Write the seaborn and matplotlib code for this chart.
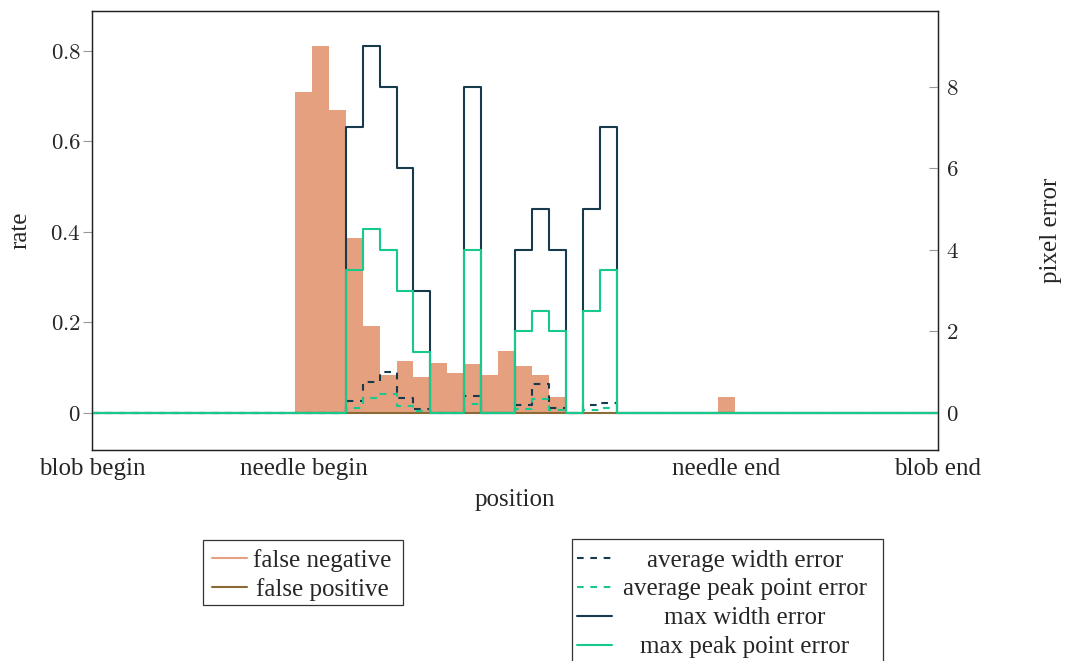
import numpy as np
import pandas as pd
import matplotlib
matplotlib.use("Agg")
import matplotlib.pyplot as plt
from matplotlib.lines import Line2D
from matplotlib.patches import Rectangle
from matplotlib.ticker import FuncFormatter
import seaborn as sns

# ---- data -------------------------------------------------------------
n_bins = 50
position_ticks = [0, 12.5, 37.5, 50]
position_labels = ["blob begin", "needle begin", "needle end", "blob end"]

# false-negative rate per bin (bins not listed are 0)
fn_bins = [12, 13, 14, 15, 16, 17, 18, 19, 20, 21, 22, 23, 24, 25, 26, 27, 37]
fn_rate = [0.71, 0.81, 0.67, 0.387, 0.193, 0.084, 0.115, 0.080, 0.111, 0.088,
           0.108, 0.083, 0.137, 0.104, 0.084, 0.036, 0.036]

# false-positive rate is zero everywhere
fp_bins = []
fp_rate = []

# pixel errors per bin (bins not listed are 0)
err_bins = [15, 16, 17, 18, 19, 22, 25, 26, 27, 29, 30]
avg_width_err = [0.28, 0.75, 1.0, 0.36, 0.10, 0.42, 0.20, 0.70, 0.12, 0.19, 0.25]
avg_peak_err = [0.13, 0.37, 0.47, 0.18, 0.04, 0.21, 0.09, 0.34, 0.06, 0.08, 0.12]
max_width_err = [7, 9, 8, 6, 3, 8, 4, 5, 4, 5, 7]
max_peak_err = [3.5, 4.5, 4, 3, 1.5, 4, 2, 2.5, 2, 2.5, 3.5]

rate_ticks = [0, 0.2, 0.4, 0.6, 0.8]
err_ticks = [0, 2, 4, 6, 8]

# ---- helpers ----------------------------------------------------------
edges = np.arange(n_bins + 1)
centers = edges[:-1] + 0.5


def per_bin(bins, values):
    full = np.zeros(n_bins)
    full[list(bins)] = values
    return full


def step_values(bins, values):
    full = per_bin(bins, values)
    return np.append(full, full[-1])


# ---- style ------------------------------------------------------------
sns.set_style("white")
plt.rcParams["font.family"] = ["Liberation Serif", "DejaVu Serif"]
plt.rcParams["mathtext.fontset"] = "cm"
FS = 18      # words
FS_NUM = 16.5  # numeric tick labels

C_FN = "#E5A080"
C_FP = "#8C6A35"
C_NAVY = "#173A4C"
C_GREEN = "#17C98A"
LW = 1.5

fig = plt.figure(figsize=(10.69, 6.61), dpi=100)
W, H = 1069, 661
ax = fig.add_axes([92 / W, 1 - 450 / H, (938 - 92) / W, (450 - 11) / H])
ax2 = ax.twinx()

# rate axis: false negative area, false positive line
fn_df = pd.DataFrame({"position": centers, "rate": per_bin(fn_bins, fn_rate)})
sns.histplot(data=fn_df, x="position", weights="rate", bins=edges.tolist(),
             element="step", fill=True, color=C_FN, alpha=1, linewidth=0,
             ax=ax, legend=False)
sns.lineplot(x=edges, y=step_values(fp_bins, fp_rate), drawstyle="steps-post",
             color=C_FP, lw=LW, ax=ax, legend=False, estimator=None)

# pixel error axis
dash = (0, (3.2, 3.2))
sns.lineplot(x=edges, y=step_values(err_bins, avg_width_err), drawstyle="steps-post",
             color=C_NAVY, lw=LW, linestyle=dash, ax=ax2, legend=False, estimator=None)
sns.lineplot(x=edges, y=step_values(err_bins, avg_peak_err), drawstyle="steps-post",
             color=C_GREEN, lw=LW, linestyle=dash, ax=ax2, legend=False, estimator=None)
sns.lineplot(x=edges, y=step_values(err_bins, max_width_err), drawstyle="steps-post",
             color=C_NAVY, lw=LW, ax=ax2, legend=False, estimator=None)
sns.lineplot(x=edges, y=step_values(err_bins, max_peak_err), drawstyle="steps-post",
             color=C_GREEN, lw=LW, ax=ax2, legend=False, estimator=None)

# ---- axes ---------------------------------------------------------------
ax.set_xlim(0, n_bins)
ax.set_ylim(-0.082, 0.888)
ax2.set_ylim(-0.91, 9.855)

ax.set_xticks(position_ticks)
ax.set_xticklabels(position_labels, fontsize=FS)
ax.set_yticks(rate_ticks)
ax2.set_yticks(err_ticks)
fmt = FuncFormatter(lambda v, p: "$%s$" % ("0" if v == 0 else ("%g" % v)))
ax.yaxis.set_major_formatter(fmt)
ax2.yaxis.set_major_formatter(fmt)

ax.tick_params(axis="y", direction="out", length=6.5, width=0.8, color="#999999",
               pad=1.5, labelsize=FS_NUM)
ax.tick_params(axis="x", direction="in", length=6, width=0.8, color="#999999",
               pad=6, labelsize=FS)
ax2.tick_params(axis="y", direction="in", length=6.5, width=0.8, color="#999999",
                pad=6, labelsize=FS_NUM)

for a in (ax, ax2):
    for s in a.spines.values():
        s.set_color("#222222")
        s.set_linewidth(0.9)
    a.grid(False)

ax.set_xlabel("position", fontsize=FS, labelpad=6)
ax.set_ylabel("rate", fontsize=FS)
ax2.set_ylabel("pixel error", fontsize=FS)
ax.yaxis.set_label_coords(-0.072, 0.5)
ax2.yaxis.set_label_coords(1.121, 0.5)


# ---- legends --------------------------------------------------------------
def fx(px):
    return px / W


def fy(py):
    return 1 - py / H


def legend_box(x0, y0, x1, y1):
    fig.add_artist(Rectangle((fx(x0), fy(y1)), fx(x1) - fx(x0), fy(y0) - fy(y1),
                             transform=fig.transFigure, facecolor="white",
                             edgecolor="#333333", linewidth=0.9, clip_on=False))


legend_box(203, 540, 403, 605)
for py, c, lab in [(558, C_FN, "false negative"), (587, C_FP, "false positive")]:
    fig.add_artist(Line2D([fx(212), fx(247)], [fy(py), fy(py)], color=c, lw=LW,
                          transform=fig.transFigure))
    fig.text(fx(322.5), fy(py), lab, ha="center", va="center_baseline", fontsize=FS)

legend_box(572, 539, 883, 700)
right_items = [
    (558, C_NAVY, dash, "average width error"),
    (587, C_GREEN, dash, "average peak point error"),
    (616, C_NAVY, "-", "max width error"),
    (645, C_GREEN, "-", "max peak point error"),
]
for py, c, ls, lab in right_items:
    fig.add_artist(Line2D([fx(577), fx(612)], [fy(py), fy(py)], color=c, lw=LW,
                          linestyle=ls, transform=fig.transFigure))
    fig.text(fx(745), fy(py), lab, ha="center", va="center_baseline", fontsize=FS)

fig.savefig("out.png", dpi=100)
